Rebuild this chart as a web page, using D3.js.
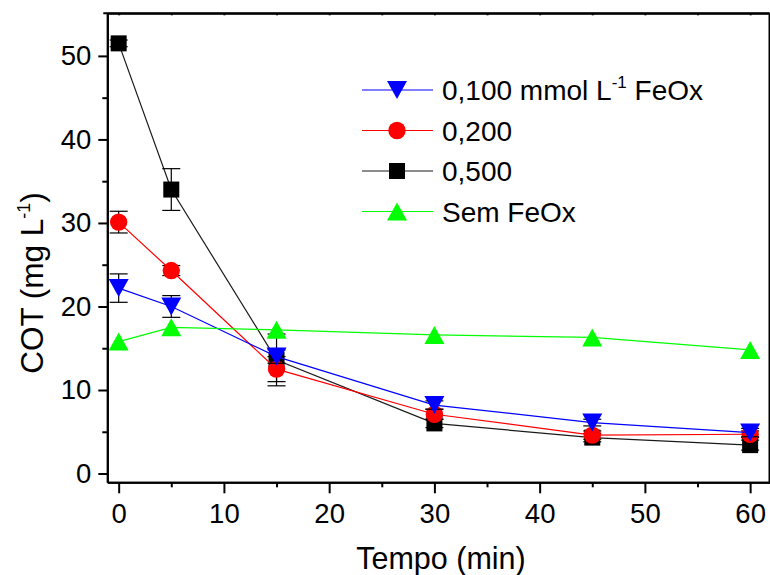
<!DOCTYPE html>
<html>
<head>
<meta charset="utf-8">
<script src="https://cdn.jsdelivr.net/npm/d3@7"></script>
<style>
  html, body { margin: 0; padding: 0; background: #fff; }
  svg { display: block; font-family: "Liberation Sans", Arial, sans-serif; }
</style>
</head>
<body>
<svg id="chart" width="770" height="575"></svg>
<script>
// ---- data ----
const tempo = [0, 5, 15, 30, 45, 60];
const sem = [15.8, 17.5, 17.2, 16.6, 16.3, 14.8];
const c100 = [22.2, 20.0, 14.0, 8.2, 6.1, 4.9];
const c100Err = [1.7, 1.3, 0.8, 0.5, 0.4, 0.5];
const c200 = [30.1, 24.3, 12.5, 7.1, 4.6, 4.7];
const c200Err = [1.3, 0.6, 1.5, 0.6, 0.5, 0.4];
const c500 = [51.5, 34.0, 13.6, 6.0, 4.3, 3.4];
const c500Err = [0.4, 2.5, 3.1, 0.5, 0.5, 0.6];
const xMajor = [0, 10, 20, 30, 40, 50, 60];
const xMinor = [5, 15, 25, 35, 45, 55];
const yMajor = [0, 10, 20, 30, 40, 50];
const yMinor = [5, 15, 25, 35, 45];
const legendLabels = ["0,100 mmol L", "0,200", "0,500", "Sem FeOx"];

const series = [
  {name: "0,500", values: c500, err: c500Err, color: "#000000", line: "#1a1a1a", shape: "square"},
  {name: "0,200", values: c200, err: c200Err, color: "#ff0000", line: "#ff0000", shape: "circle"},
  {name: "0,100", values: c100, err: c100Err, color: "#0000ff", line: "#0000ff", shape: "down"},
  {name: "Sem", values: sem, err: null, color: "#00ff00", line: "#00ff00", shape: "up"}
];

const svg = d3.select("#chart");
const L = 107.3, R = 769.5, T = 13.3, B = 482.3;
const x = d3.scaleLinear().domain([-1.08, 61.84]).range([L, R]);
const y = d3.scaleLinear().domain([-1.05, 55.1]).range([B, T]);

function shapePath(shape) {
  if (shape === "square") return "M-8,-8H8V8H-8Z";
  if (shape === "circle") return d3.symbol().type(d3.symbolCircle).size(Math.PI * 8.7 * 8.7)();
  if (shape === "down") return "M-10,-9L10,-9L0,9Z";
  return "M0,-9L10,9L-10,9Z";
}

// axes
const axisG = svg.append("g");
function styleAxis(g) {
  g.attr("font-size", 27.5).attr("font-family", "'Liberation Sans', Arial, sans-serif");
  g.select(".domain").attr("stroke", "#000").attr("stroke-width", 2);
  g.selectAll(".tick line").attr("stroke", "#000").attr("stroke-width", 2);
  g.selectAll(".tick text").attr("fill", "#000");
}
// bottom
axisG.append("g").attr("transform", `translate(0,${B})`)
  .call(d3.axisBottom(x).tickValues(xMajor).tickSize(11).tickSizeOuter(0).tickPadding(10).tickFormat(d3.format("d")))
  .call(styleAxis);
axisG.append("g").attr("transform", `translate(0,${B})`)
  .call(d3.axisBottom(x).tickValues(xMinor).tickSize(5).tickSizeOuter(0).tickFormat(""))
  .call(styleAxis);
// left
axisG.append("g").attr("transform", `translate(${L},0)`)
  .call(d3.axisLeft(y).tickValues(yMajor).tickSize(9).tickSizeOuter(0).tickPadding(7).tickFormat(d3.format("d")))
  .call(styleAxis);
axisG.append("g").attr("transform", `translate(${L},0)`)
  .call(d3.axisLeft(y).tickValues(yMinor).tickSize(5).tickSizeOuter(0).tickFormat(""))
  .call(styleAxis);
// top
axisG.append("g").attr("transform", `translate(0,${T})`)
  .call(d3.axisTop(x).tickValues(xMajor.concat(xMinor)).tickSize(-2).tickSizeOuter(0).tickFormat(""))
  .call(styleAxis);
axisG.append("line").attr("x1", L - 4).attr("x2", R).attr("y1", T).attr("y2", T)
  .attr("stroke", "#000").attr("stroke-width", 2);
// right
axisG.append("line").attr("x1", R).attr("x2", R).attr("y1", T).attr("y2", B)
  .attr("stroke", "#000").attr("stroke-width", 2);

// series
const plot = svg.append("g");
series.forEach(s => {
  const g = plot.append("g");
  const line = d3.line().x((d, i) => x(tempo[i])).y(d => y(d));
  g.append("path").datum(s.values).attr("d", line)
    .attr("fill", "none").attr("stroke", s.line).attr("stroke-width", 1.2);
  if (s.err) {
    s.values.forEach((v, i) => {
      const cx = x(tempo[i]);
      const y1 = y(v + s.err[i]), y2 = y(v - s.err[i]);
      g.append("line").attr("x1", cx).attr("x2", cx).attr("y1", y1).attr("y2", y2)
        .attr("stroke", "#000").attr("stroke-width", 1.2);
      [y1, y2].forEach(yy => g.append("line").attr("x1", cx - 9).attr("x2", cx + 9)
        .attr("y1", yy).attr("y2", yy).attr("stroke", "#000").attr("stroke-width", 1.2));
    });
  }
  g.selectAll("path.m").data(s.values).enter().append("path").attr("class", "m")
    .attr("d", shapePath(s.shape))
    .attr("transform", (d, i) => `translate(${x(tempo[i])},${y(d)})`)
    .attr("fill", s.color);
});

// legend
const legendOrder = [2, 1, 0, 3];
const leg = svg.append("g");
legendOrder.forEach((si, k) => {
  const s = series[si];
  const cy = 90 + k * 40.5;
  leg.append("line").attr("x1", 362).attr("x2", 433).attr("y1", cy).attr("y2", cy)
    .attr("stroke", s.line).attr("stroke-width", 1.2);
  leg.append("path").attr("d", shapePath(s.shape)).attr("transform", `translate(397,${cy})`)
    .attr("fill", s.color);
  const t = leg.append("text").attr("x", 442).attr("y", cy + 10)
    .attr("font-size", 28).attr("fill", "#000").text(legendLabels[k]);
  if (k === 0) {
    t.append("tspan").attr("font-size", 17).attr("dy", -12).text("-1");
    t.append("tspan").attr("dy", 12).text(" FeOx");
  }
});

// axis titles
svg.append("text").attr("x", 441).attr("y", 569).attr("text-anchor", "middle")
  .attr("font-size", 30.5).attr("fill", "#000").text("Tempo (min)");
const yt = svg.append("text").attr("transform", "translate(43,283) rotate(-90)")
  .attr("text-anchor", "middle").attr("font-size", 31.5).attr("fill", "#000");
yt.append("tspan").text("COT (mg L");
yt.append("tspan").attr("font-size", 18).attr("dy", -13).text("-1");
yt.append("tspan").attr("dy", 13).text(")");
</script>
</body>
</html>
